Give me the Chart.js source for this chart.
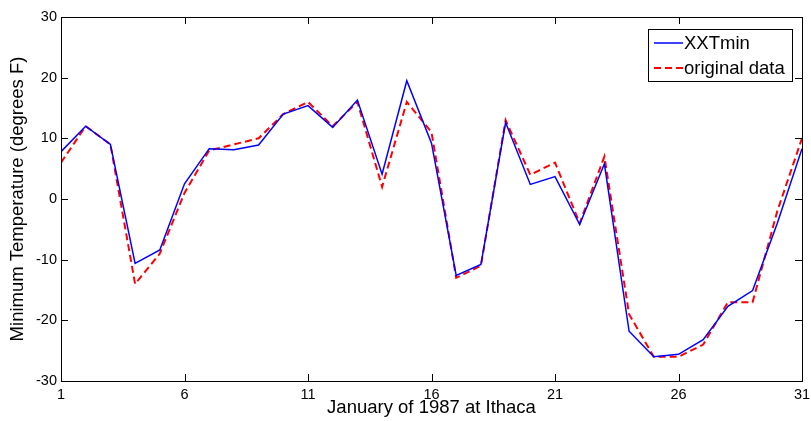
<!DOCTYPE html>
<html><head><meta charset="utf-8">
<script src="https://cdn.jsdelivr.net/npm/chart.js@4.4.0/dist/chart.umd.min.js"></script>
<style>html,body{margin:0;padding:0;background:#fff}#wrap{width:811px;height:421px}</style>
</head><body><div id="wrap"><canvas id="c" width="811" height="421"></canvas></div>
<script>
const days = [1,2,3,4,5,6,7,8,9,10,11,12,13,14,15,16,17,18,19,20,21,22,23,24,25,26,27,28,29,30,31];
const xxTmin = [7.8,12.0,9.0,-10.6,-8.4,2.5,8.3,8.1,8.9,14.0,15.4,11.8,16.3,4.1,19.5,9.2,-12.6,-10.8,12.6,2.4,3.7,-4.2,5.8,-21.8,-26.0,-25.6,-23.2,-17.7,-15.1,-4.0,8.3];
const originalData = [6,12,9,-14,-9,1,8,9,10,14,16,12,16,2,16,11,-13,-11,13,4,6,-4,7,-19,-26,-26,-24,-17,-17,-2,10];
const xTicks = [1,6,11,16,21,26,31];
const yTicks = [-30,-20,-10,0,10,20,30];
const seriesNames = ['XXTmin','original data'];

const FONT = "'Liberation Sans', Arial, Helvetica, sans-serif";

const boxPlugin = {
  id: 'boxPlugin',
  afterDatasetsDraw(chart) {
    const {ctx, chartArea: a, scales} = chart;
    const x = scales.x, y = scales.y;
    ctx.save();
    ctx.strokeStyle = '#000';
    ctx.lineWidth = 1;
    ctx.strokeRect(Math.round(a.left)+0.5, Math.round(a.top)+0.5, Math.round(a.right-a.left), Math.round(a.bottom-a.top));
    const tl = 7;
    ctx.beginPath();
    xTicks.forEach(v => {
      const px = Math.round(x.getPixelForValue(v)) + 0.5;
      ctx.moveTo(px, a.bottom); ctx.lineTo(px, a.bottom - tl);
      ctx.moveTo(px, a.top); ctx.lineTo(px, a.top + tl);
    });
    yTicks.forEach(v => {
      const py = Math.round(y.getPixelForValue(v)) + 0.5;
      ctx.moveTo(a.left, py); ctx.lineTo(a.left + tl, py);
      ctx.moveTo(a.right, py); ctx.lineTo(a.right - tl, py);
    });
    ctx.stroke();
    // legend
    const lx = 648, ly = 29, lw = 144, lh = 52;
    ctx.fillStyle = '#fff';
    ctx.fillRect(lx+0.5, ly+0.5, lw, lh);
    ctx.strokeRect(lx+0.5, ly+0.5, lw, lh);
    ctx.font = '18.5px ' + FONT;
    ctx.textBaseline = 'middle';
    ctx.fillStyle = '#000';
    chart.data.datasets.forEach((ds, i) => {
      const cy = ly + 14 + i * 25;
      ctx.beginPath();
      ctx.strokeStyle = ds.borderColor;
      ctx.lineWidth = ds.borderWidth;
      ctx.setLineDash(ds.borderDash || []);
      ctx.moveTo(lx + 6, cy); ctx.lineTo(lx + 35, cy);
      ctx.stroke();
      ctx.setLineDash([]);
      ctx.fillText(ds.label, lx + 36, cy + 1);
    });
    ctx.restore();
  }
};

new Chart(document.getElementById('c'), {
  type: 'line',
  data: {
    datasets: [
      { label: seriesNames[0], data: days.map((d,i)=>({x:d, y:xxTmin[i]})), borderColor: '#0000ff', borderWidth: 1.5, pointRadius: 0, tension: 0, fill: false },
      { label: seriesNames[1], data: days.map((d,i)=>({x:d, y:originalData[i]})), borderColor: '#ff0000', borderWidth: 2, borderDash: [7,4], pointRadius: 0, tension: 0, fill: false }
    ]
  },
  options: {
    responsive: false,
    animation: false,
    devicePixelRatio: 1,
    layout: { padding: { top: 17, right: 9, left: 0, bottom: 0 } },
    plugins: { legend: { display: false }, tooltip: { enabled: false } },
    scales: {
      x: {
        type: 'linear', min: 1, max: 31,
        afterBuildTicks: s => { s.ticks = xTicks.map(v => ({value: v})); },
        afterFit: s => { s.height = 40; s.paddingRight = 0; s.paddingLeft = 0; },
        grid: { display: true, drawOnChartArea: false, drawTicks: false, color: 'rgba(0,0,0,0)' },
        border: { display: false },
        ticks: { color: '#000', font: { family: FONT, size: 14.5 }, padding: 5, maxRotation: 0, autoSkip: false },
        title: { display: true, text: 'January of 1987 at Ithaca', color: '#000', font: { family: FONT, size: 18.5 }, padding: { top: 0, bottom: 2 } }
      },
      y: {
        min: -30, max: 30,
        afterBuildTicks: s => { s.ticks = yTicks.map(v => ({value: v})); },
        afterFit: s => { s.width = 61; s.paddingTop = 0; s.paddingBottom = 0; },
        grid: { display: true, drawOnChartArea: false, drawTicks: false, color: 'rgba(0,0,0,0)' },
        border: { display: false },
        ticks: { color: '#000', font: { family: FONT, size: 14.5 }, padding: 4, autoSkip: false },
        title: { display: true, text: 'Minimum Temperature (degrees F)', color: '#000', font: { family: FONT, size: 18.5 }, padding: { top: 7, bottom: 0 } }
      }
    }
  },
  plugins: [boxPlugin]
});
</script>
</body></html>
